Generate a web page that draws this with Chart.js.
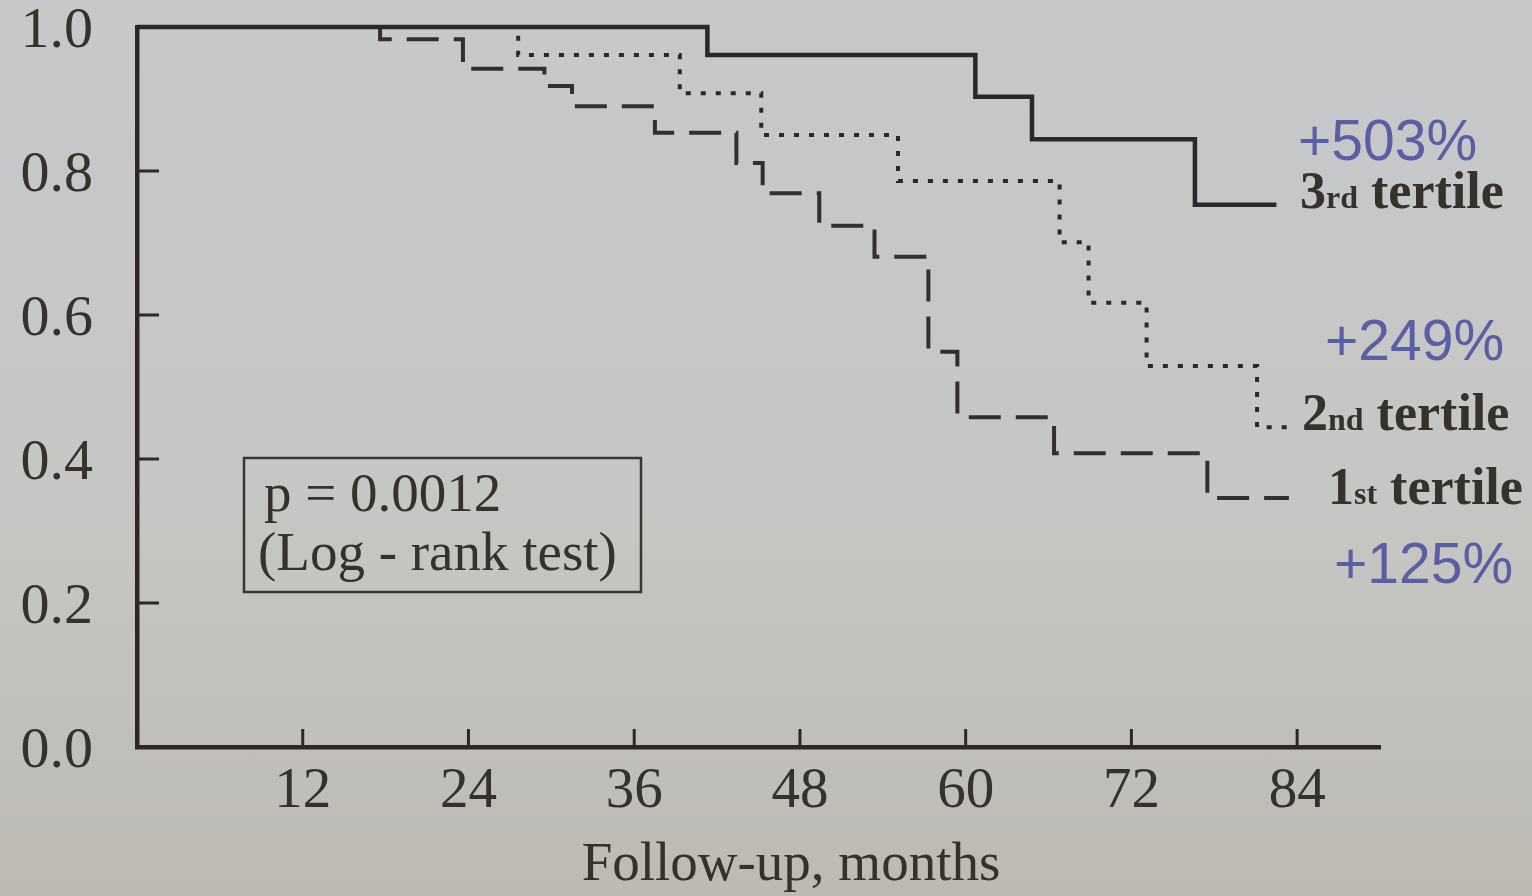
<!DOCTYPE html>
<html>
<head>
<meta charset="utf-8">
<script src="https://cdn.jsdelivr.net/npm/chart.js@4/dist/chart.umd.min.js"></script>
<style>
    html, body { margin: 0; padding: 0; }
    body {
        width: 1532px;
        height: 896px;
        background: linear-gradient(180deg, #c6c8ca 0%, #c6c7c4 55%, #bdbab3 100%);
    }
    canvas { display: block; }
</style>
</head>
<body>
<canvas id="km_chart" width="1532" height="896"></canvas>
<script>
// Kaplan-Meier curves, months of follow-up vs survival
const tertile3Months = [0, 41.3, 60.7, 64.8, 76.6, 82.5];
const tertile3Surv   = [1, 0.961, 0.903, 0.844, 0.753, 0.753];

const tertile2Months = [0, 27.6, 39.3, 45.2, 55.1, 66.8, 68.9, 73.1, 81.1, 83.3];
const tertile2Surv   = [1, 0.961, 0.908, 0.850, 0.786, 0.701, 0.617, 0.529, 0.444, 0.444];

const tertile1Months = [0, 17.6, 23.6, 29.5, 31.5, 37.5, 43.4, 45.3, 49.4, 53.4, 57.3, 59.4, 66.4, 77.5, 83.4];
const tertile1Surv   = [1, 0.983, 0.942, 0.918, 0.890, 0.853, 0.811, 0.769, 0.724, 0.681, 0.549, 0.458, 0.408, 0.346, 0.346];

const xTickValues = [12, 24, 36, 48, 60, 72, 84];
const yTickValues = [0, 0.2, 0.4, 0.6, 0.8, 1.0];

const pValueText = 'p = 0.0012';
const testText = '(Log - rank test)';
const xTitle = 'Follow-up, months';

const ink = '#29282c';
const axisInk = '#2f2725';
const labelInk = '#35312d';
const blueInk = '#5a5ea4';
const serif = '"Liberation Serif", "DejaVu Serif", serif';
const sans = '"Liberation Sans", Arial, sans-serif';

function toPoints(months, surv) {
    return months.map((m, i) => ({x: m, y: surv[i]}));
}

// draws "3" + small "rd" + " tertile"
function drawParts(ctx, parts, x, y, size) {
    let cx = x;
    parts.forEach(p => {
        ctx.font = 'bold ' + (p.small ? Math.round(size * 0.62) : size) + 'px ' + serif;
        ctx.fillText(p.t, cx, y);
        cx += ctx.measureText(p.t).width;
    });
}

const decorations = {
    id: 'decorations',
    afterDatasetsDraw(chart) {
        const {ctx, scales: {x, y}} = chart;
        ctx.save();
        ctx.strokeStyle = axisInk;
        ctx.lineWidth = 3;
        // inward tick marks
        yTickValues.slice(1, -1).forEach(v => {
            const py = y.getPixelForValue(v);
            ctx.beginPath();
            ctx.moveTo(x.left, py);
            ctx.lineTo(x.left + 22, py);
            ctx.stroke();
        });
        xTickValues.forEach(v => {
            const px = x.getPixelForValue(v);
            ctx.beginPath();
            ctx.moveTo(px, y.bottom);
            ctx.lineTo(px, y.bottom - 18);
            ctx.stroke();
        });

        // p-value box
        ctx.lineWidth = 2.5;
        ctx.strokeStyle = '#3a3432';
        ctx.strokeRect(244, 458, 397, 134);
        ctx.fillStyle = labelInk;
        ctx.textBaseline = 'alphabetic';
        ctx.textAlign = 'left';
        ctx.font = '55px ' + serif;
        ctx.fillText(pValueText, 264, 511);
        ctx.fillText(testText, 258, 570);

        // x title
        ctx.textAlign = 'center';
        ctx.font = '55px ' + serif;
        ctx.fillText(xTitle, 791, 880);

        // right side labels
        ctx.textAlign = 'left';
        ctx.fillStyle = labelInk;
        drawParts(ctx, [{t: '3'}, {t: 'rd', small: true}, {t: ' tertile'}], 1300, 208, 52);
        drawParts(ctx, [{t: '2'}, {t: 'nd', small: true}, {t: ' tertile'}], 1302, 430, 52);
        drawParts(ctx, [{t: '1'}, {t: 'st', small: true}, {t: ' tertile'}], 1328, 504, 52);

        ctx.fillStyle = blueInk;
        ctx.font = '57px ' + sans;
        ctx.fillText('+503%', 1298, 160);
        ctx.fillText('+249%', 1325, 360);
        ctx.fillText('+125%', 1334, 583);
        ctx.restore();
    }
};

new Chart(
    document.getElementById('km_chart'),
    {
        type: 'line',
        data: {
            datasets: [
                {
                    label: '3rd tertile',
                    data: toPoints(tertile3Months, tertile3Surv),
                    borderColor: ink,
                    borderWidth: 4.5,
                    stepped: 'before',
                    pointRadius: 0,
                    clip: false
                },
                {
                    label: '2nd tertile',
                    data: toPoints(tertile2Months, tertile2Surv),
                    borderColor: ink,
                    borderWidth: 4,
                    borderDash: [5, 10],
                    stepped: 'before',
                    pointRadius: 0,
                    clip: false
                },
                {
                    label: '1st tertile',
                    data: toPoints(tertile1Months, tertile1Surv),
                    borderColor: '#332f2e',
                    borderWidth: 4,
                    borderDash: [32, 15],
                    stepped: 'before',
                    pointRadius: 0,
                    clip: false
                }
            ]
        },
        options: {
            responsive: false,
            animation: false,
            layout: {padding: {top: 27, right: 152, left: 0, bottom: 0}},
            plugins: {
                legend: {display: false},
                tooltip: {enabled: false}
            },
            scales: {
                x: {
                    type: 'linear',
                    min: 0,
                    max: 90,
                    grid: {display: false, drawTicks: false},
                    border: {display: true, color: axisInk, width: 4.5},
                    afterBuildTicks: s => { s.ticks = xTickValues.map(v => ({value: v})); },
                    ticks: {
                        color: labelInk,
                        font: {family: serif, size: 57, lineHeight: 1},
                        padding: 17,
                        maxRotation: 0,
                        callback: v => String(v)
                    },
                    afterFit: s => { s.height = 149; s.paddingLeft = 0; s.paddingRight = 0; }
                },
                y: {
                    min: 0,
                    max: 1,
                    grid: {display: false, drawTicks: false},
                    border: {display: true, color: axisInk, width: 4.5},
                    afterBuildTicks: s => { s.ticks = yTickValues.map(v => ({value: v})); },
                    ticks: {
                        color: labelInk,
                        font: {family: serif, size: 58, lineHeight: 1},
                        padding: 44,
                        labelOffset: 5,
                        callback: v => v.toFixed(1)
                    },
                    afterFit: s => { s.width = 137; s.paddingTop = 0; s.paddingBottom = 0; }
                }
            }
        },
        plugins: [decorations]
    }
);
</script>
</body>
</html>
